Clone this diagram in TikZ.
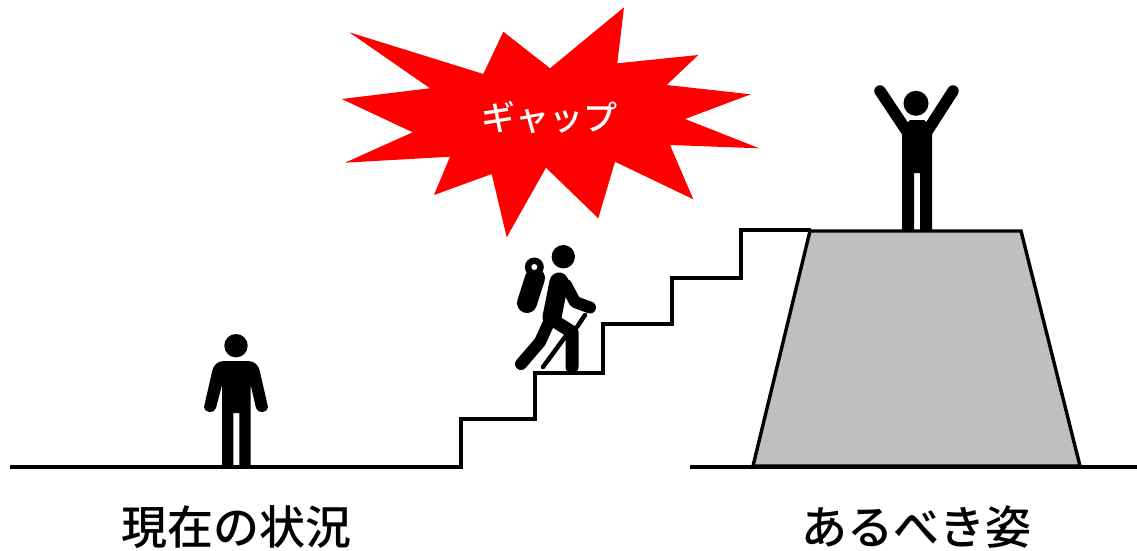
\documentclass[tikz,border=0pt]{standalone}
\usepackage{fontspec}
\newfontfamily\cjk{Noto Sans CJK JP Medium}
\tikzset{
  line/.style={draw=black,line width=3.4pt,line join=miter},
  limb/.style={draw=black,line width=11pt,line cap=round,line join=round},
  caption/.style={font=\cjk\fontsize{46}{50}\selectfont,text=black,inner sep=0pt,anchor=center},
}
\begin{document}
\begin{tikzpicture}[x=1pt,y=-1pt]
\useasboundingbox (0,0) rectangle (1137,551);
% burst
\fill[red] (349.3,32.3)--(483.3,74)--(503.3,31.7)--(550,68.3)--(624,7.3)--(617.3,63.3)--(698.3,55)--(666.7,85)--(750.7,94.3)--(685,119)--(759.3,148.3)--(670,145)--(693.3,199.3)--(615,161.7)--(598.3,218.3)--(546,167.7)--(506.7,237.3)--(491.7,174)--(434,195)--(450,156.7)--(345,162.7)--(412.7,132.3)--(341.7,99)--(430,88.3)--cycle;
\node[font=\cjk\fontsize{34}{36}\selectfont,text=white,inner sep=0pt] (gap) at (549,118) {ギャップ};
% trapezoid
\draw[line,fill=black!25] (753,466)--(810,231)--(1021,231)--(1080,466)--cycle;
% stairs and ground
\draw[line] (10,467)--(461,467)--(461,419)--(535,419)--(535,373)--(603,373)--(603,324)--(672,324)--(672,278)--(741,278)--(741,230)--(811,230);
\draw[line] (690,467)--(1137,467);
% left person
\fill (236,345.7) circle (11.7);
\fill[line join=round] (222,467) -- (222,385) -- (216,408) .. controls (214.5,414) and (204,413) .. (204,407) -- (212,372) .. controls (213,365) and (218,361) .. (224,361) -- (248,361) .. controls (254,361) and (259,365) .. (260,372) -- (268,407) .. controls (268,413) and (257.5,414) .. (256,408) -- (250.7,385) -- (250.7,467) -- (239.3,467) -- (239.3,413) -- (233.3,413) -- (233.3,467) -- cycle;
% right person
\fill (916,103.3) circle (12.5);
\fill (902,230) -- (902,128) -- (910,120) -- (924,120) -- (932,128) -- (932,230) -- (920,230) -- (920,173) -- (914,173) -- (914,230) -- cycle;
\draw[limb,line width=11.5pt] (880,91)--(908,133);
\draw[limb,line width=11.5pt] (953,91)--(926,133);
% hiker
\fill (563.3,256.7) circle (11.7);
\draw[limb,line width=20pt] (535,278)--(527,303);
\fill (534.3,267) circle (9.5);
\fill[white] (534.3,267) circle (3);
\draw[limb,line width=19pt] (559,282)--(552,317);
\draw[limb,line width=12pt] (566,285)--(575,302)--(590,307.5);
\draw[limb,line width=12pt] (550,320)--(540,342)--(521,364);
\draw[limb,line width=13pt] (556,322)--(572,332)--(572,367);
\draw[line width=4.5pt,line cap=round] (585,315)--(577,327);
\draw[line width=4.5pt,line cap=round] (565,337)--(543,367);
% captions
\node[caption] (now) at (236,527) {現在の状況};
\node[caption] (goal) at (916,527) {あるべき姿};
\end{tikzpicture}
\end{document}
